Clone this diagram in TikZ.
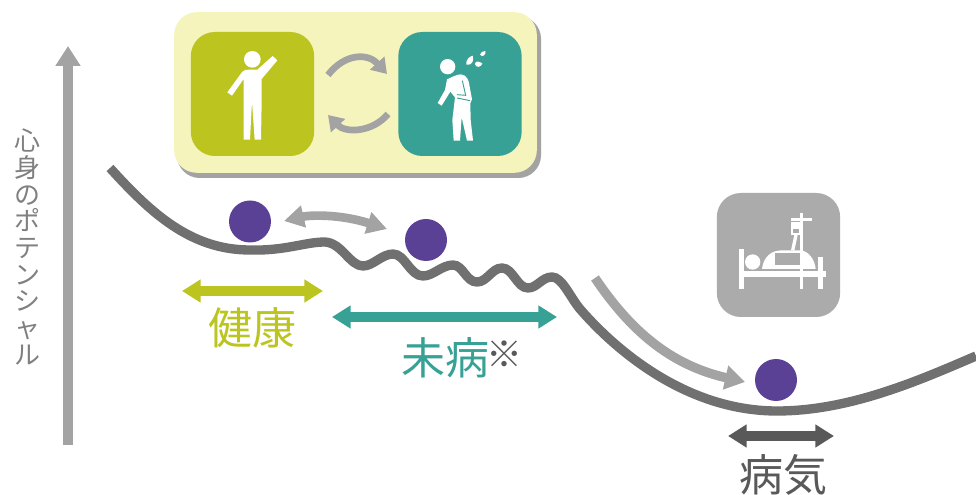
\documentclass[tikz,border=0pt]{standalone}
\usepackage{fontspec}
\setmainfont{Noto Sans CJK JP}
\usetikzlibrary{arrows.meta}

\definecolor{panelyellow}{HTML}{F4F4BC}
\definecolor{healthgreen}{HTML}{BCC41F}
\definecolor{midteal}{HTML}{38A195}
\definecolor{ballpurple}{HTML}{5B4195}
\definecolor{lightgray}{HTML}{A3A3A3}
\definecolor{boxgray}{HTML}{ABABAB}
\definecolor{darkgray}{HTML}{707070}
\definecolor{sickgray}{HTML}{595959}

\tikzset{
	iconbox/.style={minimum width=92.5pt, minimum height=93pt, rounded corners=18pt, inner sep=0pt},
	ball/.style={circle, fill=ballpurple, minimum size=31.5pt, inner sep=0pt},
	span/.style={line width=7pt, {Triangle[width=16.5pt,length=14pt]}-{Triangle[width=16.5pt,length=14pt]}},
	label/.style={font=\fontsize{33}{33}\selectfont, inner sep=0pt},
	cycle/.style={line width=5pt, lightgray, -{Triangle[width=14pt,length=11pt]}}
}

\begin{document}
\begin{tikzpicture}[x=0.75pt,y=-0.75pt]
	\useasboundingbox (0,0) rectangle (976,495);

	% Панель вверху
	\fill[lightgray, rounded corners=17pt] (177,16) rectangle (541,178);
	\node[fill=panelyellow, rounded corners=17pt, minimum width=272pt, minimum height=120.5pt, inner sep=0pt] (panel) at (355.5,92.5) {};
	\node[iconbox, fill=healthgreen] (healthbox) at (252.5,94) {};
	\node[iconbox, fill=midteal] (midbox) at (460,94) {};
	\node[iconbox, fill=boxgray] (sickbox) at (778.5,255) {};

	% Стрелки между значками
	\coordinate (cycleA) at (328,75);
	\coordinate (cycleB) at (387,74);
	\coordinate (cycleC) at (388,114);
	\coordinate (cycleD) at (328,115);
	\draw[cycle] (cycleA) .. controls (345,53) and (368,53) .. (cycleB);
	\draw[cycle] (cycleC) .. controls (372,133) and (345,133) .. (cycleD);

	% Здоровый человек
	\begin{scope}[shift={(170,5)}, x=0.25pt, y=-0.25pt]
		\fill[white] (247,163) circle (25);
		\fill[white] (172,262) -- (217,200) .. controls (222,195) and (228,194) .. (236,194)
			-- (262,194) -- (308,153) -- (322,166) -- (275,222) -- (275,290) -- (273,404)
			-- (254,404) -- (246,290) -- (240,404) -- (221,404) -- (221,222) -- (186,272) -- cycle;
	\end{scope}

	% Человек с недомоганием
	\begin{scope}[shift={(425,40)}, x=0.25pt, y=-0.25pt]
		\fill[white] (68,80) circle (23);
		\fill[white] (66,118) .. controls (80,112) and (95,103) .. (108,103)
			.. controls (125,105) and (132,120) .. (134,140) -- (141,178) -- (136,190)
			-- (137,240) -- (144,302) -- (126,302) -- (110,232) -- (105,302) -- (86,302)
			-- (82,240) -- (90,172) -- (76,155) -- (50,197) -- (38,189) -- (60,150) -- cycle;
		\draw[midteal, line width=0.7pt] (112,122) -- (122,166) -- (96,164);
		\draw[midteal, line width=0.7pt] (96,174) -- (135,182);
		\fill[white] (124,74) .. controls (122,60) and (132,50) .. (143,47) .. controls (148,60) and (142,78) .. (124,74) -- cycle;
		\fill[white] (150,72) .. controls (152,60) and (163,65) .. (172,70) .. controls (170,82) and (152,85) .. (150,72) -- cycle;
		\fill[white] (165,44) .. controls (166,36) and (174,34) .. (181,33) .. controls (184,44) and (172,54) .. (165,44) -- cycle;
	\end{scope}

	% Больной на кровати
	\begin{scope}[shift={(700,185)}, x=0.25pt, y=-0.25pt]
		\fill[white] (116,192) rectangle (133,312);
		\fill[white] (133,258) rectangle (378,275);
		\fill[white] (353,216) rectangle (370,312);
		\fill[white] (158,231) circle (23);
		\fill[white] (186,252) .. controls (190,215) and (215,196) .. (245,196)
			-- (300,196) .. controls (325,196) and (345,225) .. (347,252) -- cycle;
		\fill[boxgray] (226,204) rectangle (301,241);
		\fill[white] (301,85) rectangle (309,312);
		\fill[white] (272,100) rectangle (336,108);
		\fill[white] (273,112) rectangle (303,150);
		\fill[boxgray] (279,132) rectangle (297,145);
		\draw[white, line width=2.5pt] (288,150) -- (278,196);
	\end{scope}

	% Кривая потенциала
	\draw[darkgray, line width=7pt] (110,168) .. controls (150,212) and (190,250) .. (250,250)
		.. controls (285,251) and (305,242) .. (325,242)
		.. controls (342,243) and (350,266) .. (363,266) .. controls (373,266) and (382,254) .. (393,254)
		.. controls (405,254) and (410,276) .. (423,276) .. controls (433,276) and (442,265) .. (453,265)
		.. controls (463,265) and (466,282) .. (477,282) .. controls (487,282) and (492,268) .. (502,268)
		.. controls (513,268) and (517,288) .. (528,288) .. controls (537,288) and (542,277) .. (552,277)
		.. controls (562,277) and (570,297) .. (580,309) .. controls (620,355) and (690,411) .. (777,411)
		.. controls (850,411) and (920,380) .. (976,356);

	% Шары
	\node[ball] (ballA) at (250,221.5) {};
	\node[ball] (ballB) at (426,240) {};
	\node[ball] (ballC) at (776,380) {};

	% Серые стрелки
	\coordinate (swingA) at (284,221);
	\coordinate (swingB) at (387,229);
	\draw[lightgray, line width=6.5pt, {Triangle[width=16pt,length=15pt]}-{Triangle[width=16pt,length=15pt]}]
		(swingA) .. controls (310,215) and (340,214) .. (swingB);
	\coordinate (fallA) at (595,278);
	\coordinate (fallB) at (745,382);
	\draw[lightgray, line width=7pt, -{Triangle[width=17.5pt,length=15pt]}]
		(fallA) .. controls (630,330) and (670,365) .. (fallB);

	% Ось
	\coordinate (axisA) at (68,445);
	\coordinate (axisB) at (68,46);
	\draw[lightgray, line width=7pt, -{Triangle[width=18pt,length=15pt]}] (axisA) -- (axisB);
	\node[text=gray, font=\fontsize{19.5}{20}\selectfont, align=center, inner sep=0pt] (axislabel) at (27,247)
		{心\\身\\の\\ポ\\テ\\ン\\シ\\ャ\\ル};

	% Диапазоны
	\coordinate (healthL) at (182,291);
	\coordinate (healthR) at (323,291);
	\coordinate (midL) at (332,317);
	\coordinate (midR) at (557,317);
	\coordinate (sickL) at (728,436);
	\coordinate (sickR) at (834,436);
	\draw[span, healthgreen] (healthL) -- (healthR);
	\draw[span, midteal] (midL) -- (midR);
	\draw[span, sickgray] (sickL) -- (sickR);

	% Подписи
	\node[label, text=healthgreen] (healthlabel) at (252,328) {健康};
	\node[label, text=midteal] (midlabel) at (445,358) {未病};
	\node[text=sickgray, font=\fontsize{27}{27}\selectfont, inner sep=0pt] (mark) at (504,354) {※};
	\node[label, text=sickgray] (sicklabel) at (783,475) {病気};
\end{tikzpicture}
\end{document}
